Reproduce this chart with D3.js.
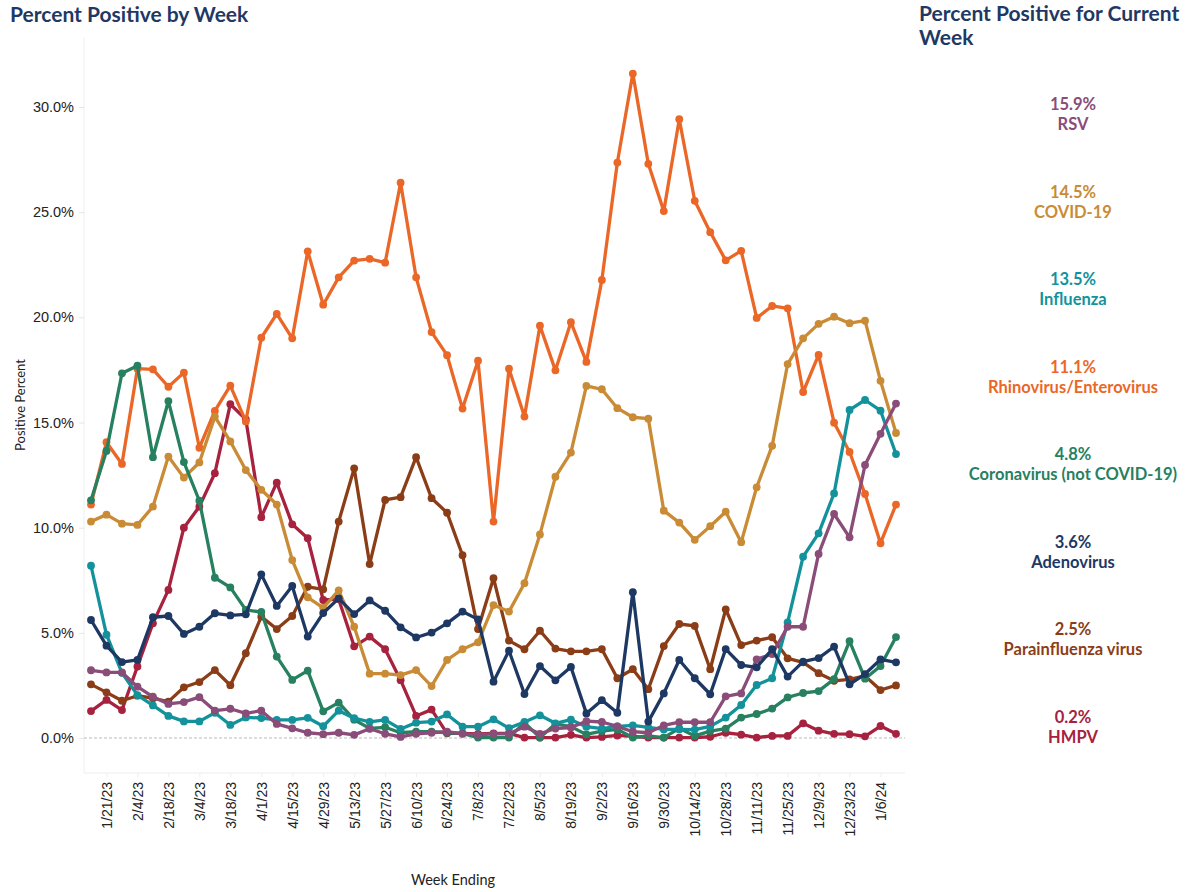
<!DOCTYPE html>
<html>
<head>
<meta charset="utf-8">
<script src="https://cdn.jsdelivr.net/npm/d3@7"></script>
<style>
  body { margin: 0; background: #fff; font-family: Lato, "Open Sans", sans-serif; }
  .title { font-weight: 700; fill: #1f3864; font-size: 21px; }
  .tick text { fill: #222; }
  .legend-text { font-weight: 700; font-size: 16.5px; }
</style>
</head>
<body>
<div id="chart"></div>
<script>
// Week ending dates, 1/14/23 to 1/13/24
const weeks = [
  '1/14/23','1/21/23','1/28/23','2/4/23','2/11/23','2/18/23','2/25/23','3/4/23','3/11/23','3/18/23',
  '3/25/23','4/1/23','4/8/23','4/15/23','4/22/23','4/29/23','5/6/23','5/13/23','5/20/23','5/27/23',
  '6/3/23','6/10/23','6/17/23','6/24/23','7/1/23','7/8/23','7/15/23','7/22/23','7/29/23','8/5/23',
  '8/12/23','8/19/23','8/26/23','9/2/23','9/9/23','9/16/23','9/23/23','9/30/23','10/7/23','10/14/23',
  '10/21/23','10/28/23','11/4/23','11/11/23','11/18/23','11/25/23','12/2/23','12/9/23','12/16/23','12/23/23',
  '12/30/23','1/6/24','1/13/24'
];

const tickLabels = ['1/21/23','2/4/23','2/18/23','3/4/23','3/18/23','4/1/23','4/15/23','4/29/23','5/13/23',
  '5/27/23','6/10/23','6/24/23','7/8/23','7/22/23','8/5/23','8/19/23','9/2/23','9/16/23','9/30/23',
  '10/14/23','10/28/23','11/11/23','11/25/23','12/9/23','12/23/23','1/6/24'];

const yTicks = [0, 5, 10, 15, 20, 25, 30];

const rsv = [3.22,3.12,3.12,2.44,1.96,1.62,1.71,1.94,1.3,1.39,1.17,1.3,0.67,0.46,0.25,0.18,0.25,0.15,0.44,0.2,
  0.05,0.2,0.25,0.3,0.2,0.15,0.2,0.2,0.54,0.2,0.45,0.5,0.8,0.76,0.55,0.3,0.25,0.6,0.75,0.75,
  0.75,1.98,2.12,3.74,3.99,5.29,5.29,8.75,10.65,9.54,12.98,14.46,15.9];

const covid = [10.29,10.62,10.19,10.13,11.0,13.38,12.38,13.1,15.28,14.1,12.74,11.8,11.1,8.46,6.69,6.19,7.02,5.29,3.06,3.06,
  2.99,3.23,2.47,3.71,4.22,4.55,6.32,6.01,7.36,9.68,12.42,13.57,16.74,16.58,15.68,15.25,15.18,10.81,10.24,9.42,
  10.07,10.76,9.31,11.92,13.89,17.78,19.0,19.69,20.03,19.72,19.84,16.98,14.5];

const influenza = [8.19,4.91,3.1,2.04,1.55,1.05,0.79,0.79,1.2,0.62,0.98,0.95,0.86,0.86,0.96,0.56,1.3,0.94,0.77,0.86,
  0.43,0.73,0.78,1.12,0.54,0.54,0.89,0.47,0.76,1.08,0.7,0.87,0.54,0.45,0.55,0.6,0.5,0.41,0.41,0.4,
  0.55,0.97,1.57,2.52,2.84,5.5,8.62,9.73,11.63,15.6,16.07,15.56,13.5];

const rhino = [11.1,14.06,13.03,17.56,17.53,16.7,17.37,13.8,15.55,16.75,15.05,19.03,20.16,19.0,23.14,20.6,21.9,22.7,22.78,22.6,
  26.4,21.9,19.3,18.2,15.66,17.94,10.29,17.56,15.28,19.6,17.48,19.77,17.88,21.78,27.36,31.59,27.3,25.05,29.42,25.54,
  24.05,22.71,23.16,19.97,20.54,20.43,16.45,18.21,14.99,13.6,11.6,9.26,11.1];

const corona = [11.3,13.65,17.34,17.7,13.35,16.02,13.12,11.28,7.62,7.16,6.09,5.99,3.87,2.76,3.2,1.27,1.68,0.87,0.46,0.51,
  0.25,0.3,0.3,0.25,0.22,0.02,0.02,0.02,0.73,0.02,0.67,0.54,0.17,0.33,0.41,0.02,0.1,0.02,0.46,0.1,
  0.33,0.45,0.97,1.14,1.4,1.93,2.14,2.23,2.8,4.61,2.82,3.42,4.8];

const adeno = [5.61,4.39,3.61,3.71,5.74,5.8,4.95,5.29,5.93,5.83,5.88,7.78,6.28,7.23,4.82,5.94,6.64,5.89,6.54,6.05,
  5.26,4.78,5.01,5.45,6.01,5.64,2.68,4.15,2.09,3.42,2.74,3.38,1.17,1.8,1.2,6.93,0.78,2.12,3.71,2.84,
  2.08,4.23,3.47,3.36,4.22,2.92,3.63,3.8,4.34,2.55,3.04,3.74,3.6];

const parainf = [2.55,2.17,1.77,2.01,1.89,1.73,2.41,2.66,3.23,2.51,4.03,5.77,5.18,5.8,7.19,7.07,10.29,12.82,8.27,11.32,
  11.45,13.35,11.4,10.71,8.69,5.18,7.6,4.63,4.22,5.1,4.25,4.12,4.12,4.22,2.84,3.27,2.32,4.37,5.42,5.33,
  3.27,6.12,4.42,4.63,4.79,3.79,3.6,3.08,2.72,2.79,2.95,2.28,2.5];

const hmpv = [1.28,1.81,1.33,3.4,5.45,7.04,10.0,11.0,12.59,15.87,15.15,10.5,12.14,10.16,9.5,6.56,6.6,4.36,4.82,4.22,
  2.75,1.05,1.35,0.22,0.22,0.2,0.22,0.22,0.02,0.02,0.02,0.15,0.02,0.05,0.12,0.08,0.02,0.02,0.02,0.02,
  0.06,0.25,0.16,0.02,0.1,0.1,0.7,0.35,0.2,0.18,0.08,0.57,0.2];

// legend order (current week panel)
const series = [
  { name: 'RSV', values: rsv, color: '#8a4c78' },
  { name: 'COVID-19', values: covid, color: '#c98b35' },
  { name: 'Influenza', values: influenza, color: '#13929b' },
  { name: 'Rhinovirus/Enterovirus', values: rhino, color: '#ea6727' },
  { name: 'Coronavirus (not COVID-19)', values: corona, color: '#27805f' },
  { name: 'Adenovirus', values: adeno, color: '#1d3862' },
  { name: 'Parainfluenza virus', values: parainf, color: '#8b3d17' },
  { name: 'HMPV', values: hmpv, color: '#a6223f' }
];

// stacking order of the lines, bottom first
const drawOrder = ['HMPV', 'Parainfluenza virus', 'Rhinovirus/Enterovirus', 'COVID-19',
  'Coronavirus (not COVID-19)', 'Influenza', 'RSV', 'Adenovirus'];

const width = 1201, height = 892;
const plot = { left: 84, right: 905, top: 38, bottom: 773 };

const svg = d3.select('#chart').append('svg')
  .attr('width', width)
  .attr('height', height);

const x = d3.scalePoint().domain(weeks).range([91, 896]);
const y = d3.scaleLinear().domain([0, 30]).range([738, 107]);

// Titles
svg.append('text').attr('class', 'title').attr('x', 10).attr('y', 22).text('Percent Positive by Week');
const rt = svg.append('text').attr('class', 'title').attr('x', 919).attr('y', 21);
rt.append('tspan').attr('x', 919).text('Percent Positive for Current');
rt.append('tspan').attr('x', 919).attr('dy', 24).text('Week');

// Axis frame lines
svg.append('line')
  .attr('x1', plot.left).attr('x2', plot.left)
  .attr('y1', plot.top).attr('y2', plot.bottom)
  .attr('stroke', '#eeeeee');
svg.append('line')
  .attr('x1', plot.left).attr('x2', plot.right)
  .attr('y1', plot.bottom).attr('y2', plot.bottom)
  .attr('stroke', '#eeeeee');

// zero line
svg.append('line')
  .attr('x1', plot.left).attr('x2', plot.right)
  .attr('y1', y(0)).attr('y2', y(0))
  .attr('stroke', '#bbbbbb')
  .attr('stroke-dasharray', '3,2');

// Y axis
const yAxis = d3.axisLeft(y)
  .tickValues(yTicks)
  .tickFormat(d => d3.format('.1f')(d) + '%')
  .tickSize(5)
  .tickPadding(5);
const gy = svg.append('g').attr('transform', `translate(${plot.left},0)`).call(yAxis);
gy.select('.domain').remove();
gy.selectAll('.tick line').attr('stroke', '#e6e6e6');
gy.selectAll('.tick text').attr('font-size', 14.5);

// X axis
const xAxis = d3.axisBottom(x)
  .tickValues(tickLabels)
  .tickSize(4)
  .tickPadding(0);
const gx = svg.append('g').attr('transform', `translate(0,${plot.bottom})`).call(xAxis);
gx.select('.domain').remove();
gx.selectAll('.tick line').attr('stroke', '#eeeeee');
gx.selectAll('.tick text')
  .attr('font-size', 14)
  .attr('text-anchor', 'end')
  .attr('transform', 'translate(0,9) rotate(-90)')
  .attr('x', 0)
  .attr('y', 0)
  .attr('dy', '0.35em');

// Axis titles
svg.append('text')
  .attr('transform', 'translate(25,405) rotate(-90)')
  .attr('text-anchor', 'middle')
  .attr('font-size', 13)
  .attr('fill', '#222')
  .text('Positive Percent');
svg.append('text')
  .attr('x', 453).attr('y', 885)
  .attr('text-anchor', 'middle')
  .attr('font-size', 14.5)
  .attr('fill', '#222')
  .text('Week Ending');

// Lines and dots
const line = d3.line()
  .x((d, i) => x(weeks[i]))
  .y(d => y(d));

const byName = new Map(series.map(s => [s.name, s]));
const lines = svg.append('g');
drawOrder.forEach(name => {
  const s = byName.get(name);
  const g = lines.append('g');
  g.append('path')
    .datum(s.values)
    .attr('fill', 'none')
    .attr('stroke', s.color)
    .attr('stroke-width', 3.3)
    .attr('stroke-linejoin', 'round')
    .attr('d', line);
  g.selectAll('circle')
    .data(s.values)
    .enter()
    .append('circle')
    .attr('cx', (d, i) => x(weeks[i]))
    .attr('cy', d => y(d))
    .attr('r', 3.9)
    .attr('fill', s.color);
});

// Current week panel
const legend = svg.append('g').attr('transform', 'translate(1073,0)');
series.forEach((s, i) => {
  const top = 110 + i * 87.5;
  const last = s.values[s.values.length - 1];
  legend.append('text')
    .attr('class', 'legend-text')
    .attr('text-anchor', 'middle')
    .attr('y', top)
    .attr('fill', s.color)
    .text(d3.format('.1f')(last) + '%');
  legend.append('text')
    .attr('class', 'legend-text')
    .attr('text-anchor', 'middle')
    .attr('y', top + 20)
    .attr('fill', s.color)
    .text(s.name);
});
</script>
</body>
</html>
